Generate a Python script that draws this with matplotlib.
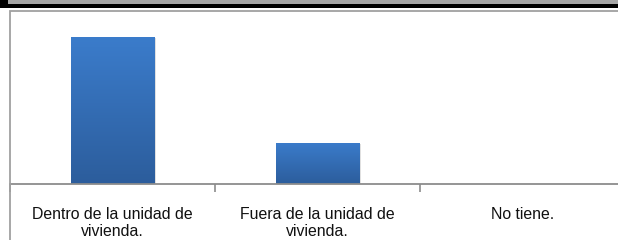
import numpy as np
import matplotlib.pyplot as plt
from matplotlib.patches import Rectangle
from matplotlib.colors import LinearSegmentedColormap

plt.rcParams['font.family'] = ['Liberation Sans', 'DejaVu Sans']

categorias = ['Dentro de la unidad de\nvivienda.', 'Fuera de la unidad de\nvivienda.', 'No tiene.']
valores = [78, 22, 0]

W, H = 618, 240
fig = plt.figure(figsize=(W / 100, H / 100), dpi=100)
fig.patch.set_facecolor('white')

# cut-off banner at the very top
fig.add_artist(Rectangle((0, 1 - 8 / H), 1, 8 / H, transform=fig.transFigure,
                         facecolor='black', edgecolor='none'))
fig.add_artist(Rectangle((8 / W, 1 - 4 / H), 1, 4 / H, transform=fig.transFigure,
                         facecolor='#a6a6a6', edgecolor='none'))

# chart frame (runs off right and bottom)
fig.add_artist(Rectangle((10 / W, -0.2), 1.2, 1.2 - 11 / H, transform=fig.transFigure,
                         facecolor='none', edgecolor='#a0a0a0', linewidth=1.3))

ax = fig.add_axes([10 / W, (H - 184) / H, 615 / W, 173 / H])
ax.set_facecolor('none')

x = np.arange(len(categorias))
bars = ax.bar(x, valores, width=0.405, color='none', edgecolor='none', zorder=3)

cmap = LinearSegmentedColormap.from_list('g', ['#2c5d9c', '#3b7ccb'])
grad = np.linspace(0, 1, 256).reshape(-1, 1)
for b in bars:
    h = b.get_height()
    if h <= 0:
        continue
    x0 = b.get_x()
    # soft shadow
    ax.add_patch(Rectangle((x0 + 0.012, -0.6), b.get_width(), h, facecolor='#000000',
                           alpha=0.12, edgecolor='none', zorder=2))
    im = ax.imshow(grad, cmap=cmap, aspect='auto', origin='lower',
                   extent=(x0, x0 + b.get_width(), 0, h), zorder=3)
    im.set_clip_path(b)

ax.set_xlim(-0.5, len(categorias) - 0.5)
ax.set_ylim(0, 92)

for s in ['top', 'right', 'left']:
    ax.spines[s].set_visible(False)
ax.spines['bottom'].set_color('#8c8c8c')
ax.spines['bottom'].set_linewidth(1.3)
ax.spines['bottom'].set_zorder(4)

ax.set_yticks([])
ax.set_xticks(np.arange(len(categorias) + 1) - 0.5)
ax.set_xticklabels([])
ax.tick_params(axis='x', which='major', length=6, width=1.2, color='#8c8c8c')
ax.set_xticks(x, minor=True)
ax.set_xticklabels(categorias, minor=True, fontsize=11.4, color='#111111', linespacing=1.15)
ax.tick_params(axis='x', which='minor', length=0, pad=16.5)

fig.savefig('out.png', dpi=100)
